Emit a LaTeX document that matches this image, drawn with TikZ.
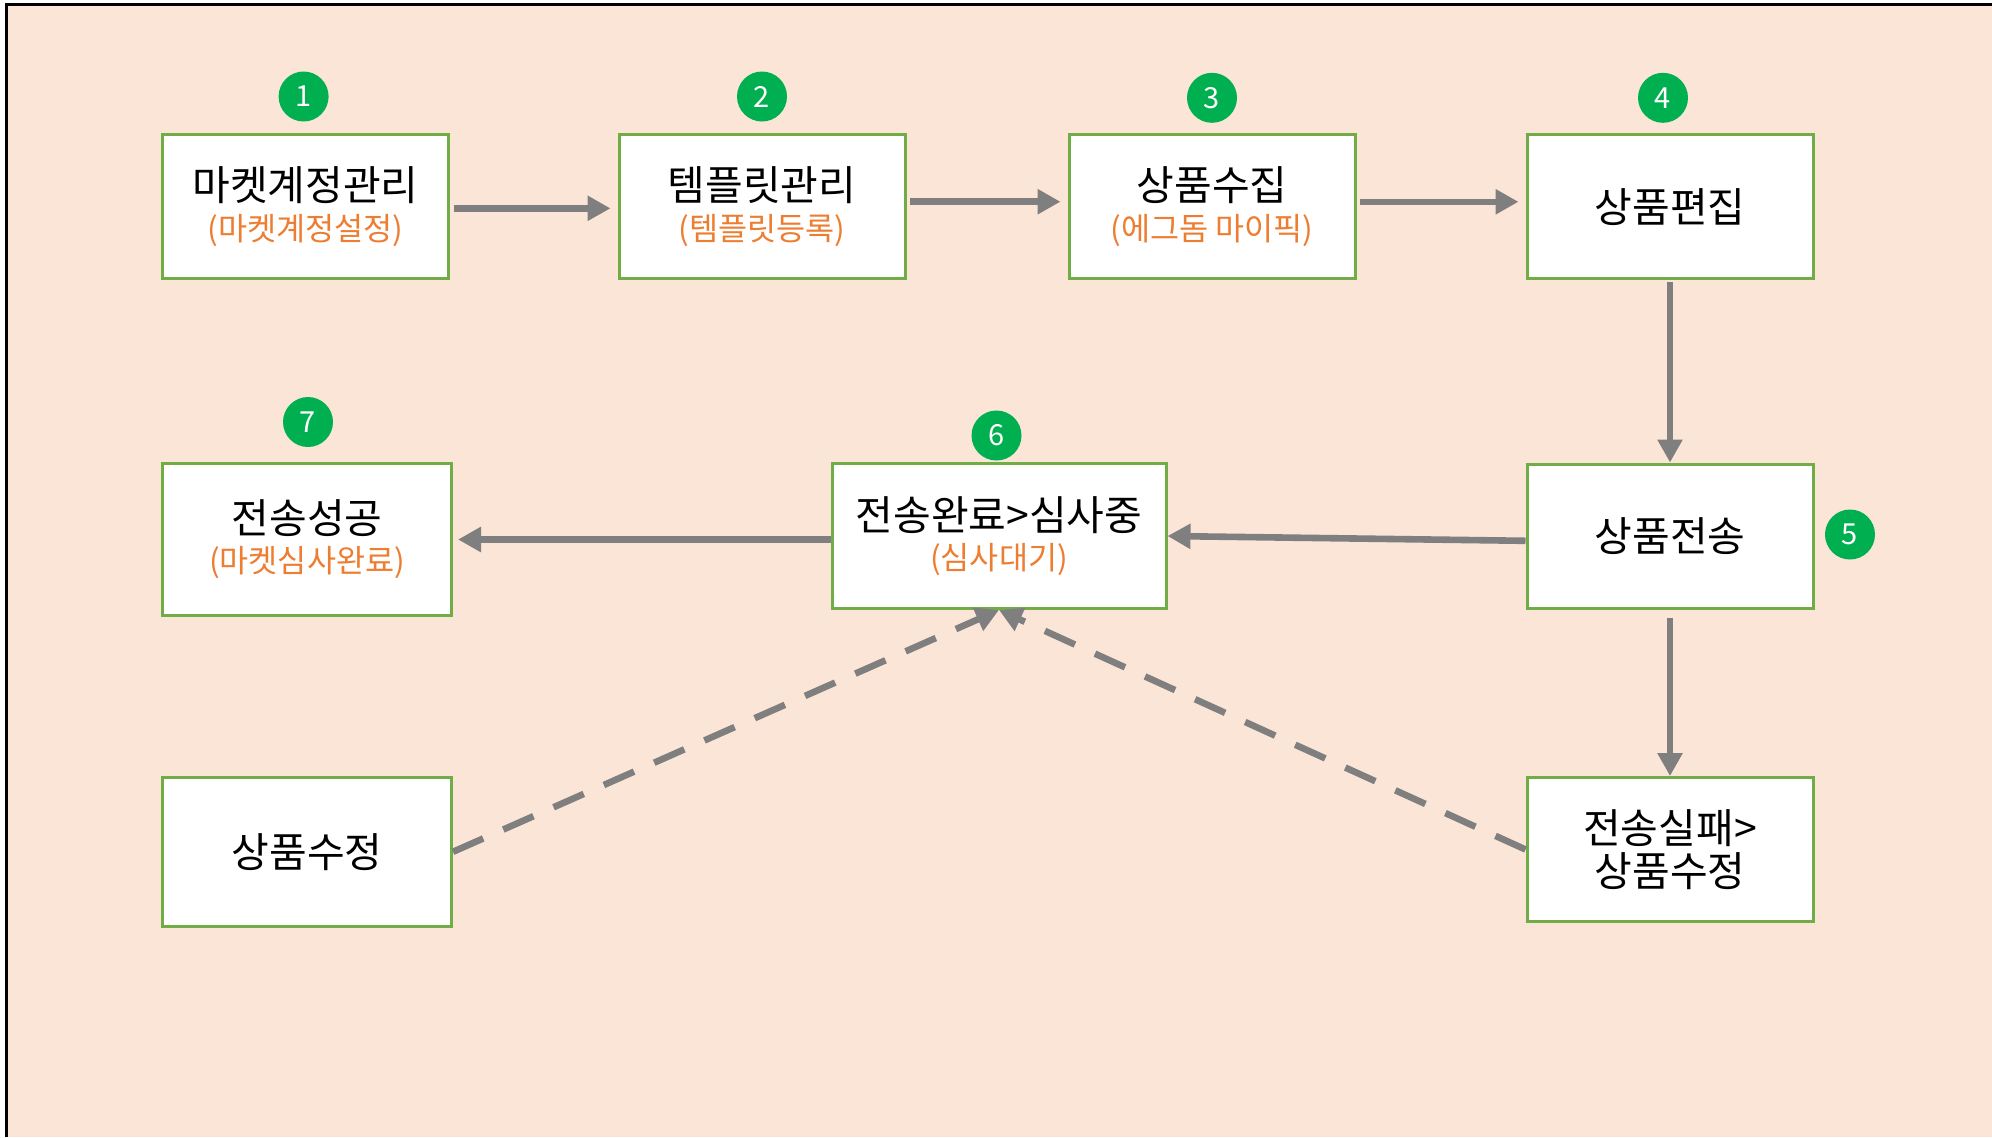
\documentclass[tikz,border=0pt]{standalone}
\usepackage{fontspec}
\setmainfont{Noto Sans CJK KR}
\usepackage{xcolor}
\usetikzlibrary{arrows.meta}
\definecolor{bgpeach}{HTML}{FBE5D6}
\definecolor{boxgreen}{HTML}{70AD47}
\definecolor{dotgreen}{HTML}{00B050}
\definecolor{suborange}{HTML}{ED7D31}
\definecolor{flowgray}{HTML}{7F7F7F}
\newcommand{\subtxt}[1]{{\fontsize{15.8}{17}\selectfont\color{suborange}#1}}

\begin{document}
\begin{tikzpicture}[x=0.5pt, y=-0.5pt,
    stepbox/.style={draw=boxgreen, line width=1.5pt, fill=white, align=center,
      inner sep=0pt, font=\fontsize{20.5}{19.6}\selectfont},
    topbox/.style={stepbox, minimum width=143pt, minimum height=72pt},
    numdot/.style={circle, fill=dotgreen, text=white, minimum size=25pt,
      inner sep=0pt, font=\fontsize{14.5}{14.5}\selectfont},
    flow/.style={draw=flowgray, line width=3.3pt,
      -{Triangle[length=11.5pt, width=12pt]}},
    retry/.style={flow, dash pattern=on 16.5pt off 11pt}]
    \useasboundingbox (0, 0) rectangle (1992, 1137);
    \fill[bgpeach] (6, 4) rectangle (1992, 1137);
    \draw[line width=1.5pt] (6, 1137) -- (6, 4) -- (1992, 4);

    \node[topbox] (b1) at (305.5, 206.6) {마켓계정관리\\\subtxt{(마켓계정설정)}};
    \node[topbox] (b2) at (762, 206.6) {템플릿관리\\\subtxt{(템플릿등록)}};
    \node[topbox] (b3) at (1212, 206.6) {상품수집\\\subtxt{(에그돔 마이픽)}};
    \node[topbox] (b4) at (1670, 206.6) {상품편집};
    \node[topbox] (b5) at (1670, 536) {상품전송};
    \node[stepbox, minimum width=167pt, minimum height=72.5pt] (b6) at (999,
      536) {전송완료>심사중\\\subtxt{(심사대기)}};
    \node[stepbox, minimum width=144.5pt, minimum height=76pt] (b7) at (307,
      539.5) {전송성공\\\subtxt{(마켓심사완료)}};
    \node[stepbox, minimum width=144.5pt, minimum height=74.5pt] (b8) at (307,
      851.8) {상품수정};
    \node[topbox] (b9) at (1670, 849.5) {전송실패>\\[2pt]상품수정};

    \node[numdot] (n1) at (303.6, 96.5) {1};
    \node[numdot] (n2) at (762, 96.5) {2};
    \node[numdot] (n3) at (1212, 97.8) {3};
    \node[numdot] (n4) at (1663, 97.8) {4};
    \node[numdot] (n5) at (1850, 534.5) {5};
    \node[numdot] (n6) at (996.5, 435.5) {6};
    \node[numdot] (n7) at (308, 422) {7};

    \draw[flow, shorten <=1.8pt, shorten >=3.5pt] ([yshift=-0.85pt]b1.east) --
      ([yshift=-0.85pt]b2.west);
    \draw[flow, shorten <=1.8pt, shorten >=3.5pt] ([yshift=2.45pt]b2.east) --
      ([yshift=2.45pt]b3.west);
    \draw[flow, shorten <=1.8pt, shorten >=3.5pt] ([yshift=2.4pt]b3.east) --
      ([yshift=2.4pt]b4.west);
    \draw[flow, shorten <=1pt] (b4.south) -- (b5.north);
    \draw[flow] ([yshift=-2.4pt]b5.west) -- (b6.east);
    \draw[flow, shorten >=2.5pt] (b6.west |- b7.east) -- (b7.east);
    \draw[flow, shorten <=4pt] (b5.south) -- (b9.north);
    \draw[retry] (b8.east) -- (b6.south);
    \draw[retry] (b9.west) -- (b6.south);
\end{tikzpicture}
\end{document}
